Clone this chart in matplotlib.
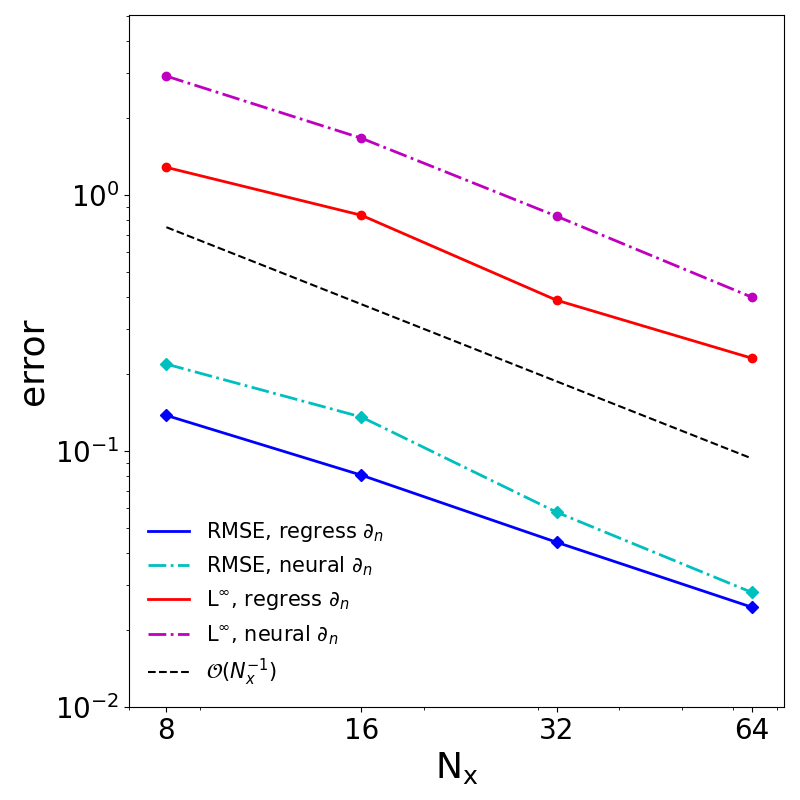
import matplotlib
matplotlib.use("Agg")
import matplotlib.pyplot as plt
from matplotlib.ticker import ScalarFormatter, NullFormatter

Nx = [8, 16, 32, 64]
rmse_regress = [0.138, 0.0806, 0.0441, 0.0246]
rmse_neural = [0.219, 0.136, 0.0578, 0.0281]
linf_regress = [1.285, 0.835, 0.389, 0.231]
linf_neural = [2.92, 1.67, 0.828, 0.40]
ref_const = 6.0
ref_line = [ref_const / n for n in Nx]

fig = plt.figure(figsize=(8, 8), dpi=100)
ax = fig.add_axes([0.161, 0.116, 0.819, 0.865])

series = [
    (rmse_regress, 'b', '-', 'D', r'RMSE, regress $\partial_n$'),
    (rmse_neural, 'c', '-.', 'D', r'RMSE, neural $\partial_n$'),
    (linf_regress, 'r', '-', 'o', r'L$^\infty$, regress $\partial_n$'),
    (linf_neural, 'm', '-.', 'o', r'L$^\infty$, neural $\partial_n$'),
]
for vals, col, ls, mk, lab in series:
    ax.plot(Nx, vals, color=col, ls=ls, lw=2, label=lab)
    ax.plot(Nx, vals, color=col, ls='none', marker=mk, markersize=6)
ax.plot(Nx, ref_line, 'k--', lw=1.5, label=r'$\mathcal{O}(N_x^{-1})$')

ax.set_xscale('log')
ax.set_yscale('log')
ax.set_xlim(7.0, 71.8)
ax.set_ylim(0.01, 5.05)
ax.set_xticks(Nx)
ax.xaxis.set_major_formatter(ScalarFormatter())
ax.xaxis.set_minor_formatter(NullFormatter())
ax.tick_params(axis='both', which='major', labelsize=20)

ax.set_xlabel(r'$\mathrm{N_x}$', fontsize=26)
ax.set_ylabel('error', fontsize=26)

ax.legend(loc='lower left', frameon=False, fontsize=15, borderaxespad=0.5)

fig.savefig('out.png', dpi=100)
